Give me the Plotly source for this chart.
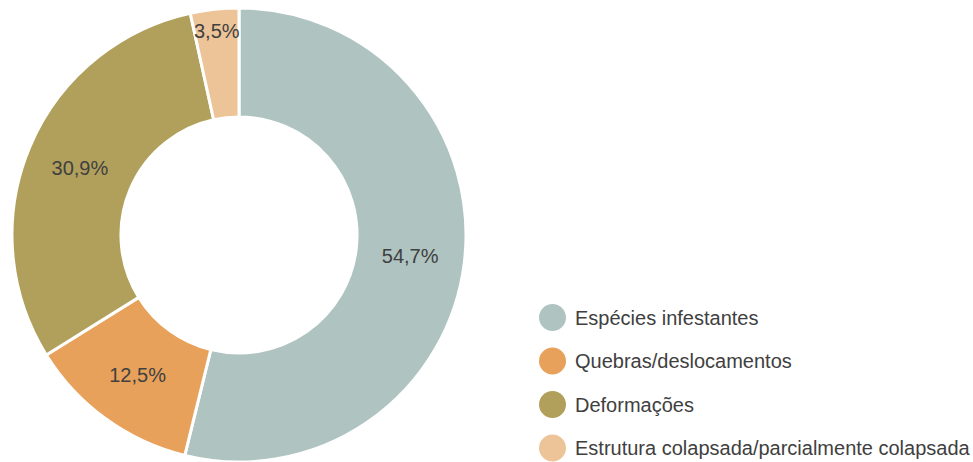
import plotly.graph_objects as go

labels = ["Espécies infestantes", "Quebras/deslocamentos", "Deformações",
          "Estrutura colapsada/parcialmente colapsada"]
values = [54.7, 12.5, 30.9, 3.5]
colors = ["#AFC4C1", "#E8A15B", "#B0A05B", "#EDC498"]

W, H = 973, 462
FONT = "Liberation Sans, Arial, sans-serif"
TXT = "#404040"

fig = go.Figure()
fig.add_trace(go.Pie(
    labels=labels, values=values, sort=False, direction="clockwise", rotation=0,
    hole=0.52,
    marker=dict(colors=colors, line=dict(color="white", width=3)),
    texttemplate="%{value:.1f}%", textposition="inside",
    insidetextorientation="horizontal",
    textfont=dict(family=FONT, size=20, color=TXT),
    domain=dict(x=[12 / W, 466 / W], y=[0, (H - 8) / H]),
    showlegend=False, hoverinfo="label+value",
))

# legend drawn as circles + text
lx, lx_text = 552.5, 573
ly0, dy = 317.5, 43.5
shapes, annotations = [], []
for i, (lab, col) in enumerate(zip(labels, colors)):
    yc = 1 - (ly0 + i * dy) / H
    shapes.append(dict(type="circle", xref="paper", yref="paper",
                       xsizemode="pixel", ysizemode="pixel",
                       xanchor=lx / W, yanchor=yc,
                       x0=-13.5, x1=13.5, y0=-13.5, y1=13.5,
                       fillcolor=col, line=dict(width=0)))
    annotations.append(dict(text=lab, xref="paper", yref="paper",
                            x=lx_text / W, y=yc, xanchor="left", yanchor="middle",
                            showarrow=False,
                            font=dict(family=FONT, size=20, color=TXT)))

fig.update_layout(
    width=W, height=H, margin=dict(l=0, r=0, t=0, b=0),
    paper_bgcolor="white", plot_bgcolor="white",
    separators=",.",
    uniformtext=dict(minsize=20, mode="show"),
    shapes=shapes, annotations=annotations,
)
fig.write_html("out.html", config={"displayModeBar": False},
               post_script="document.body.style.margin='0';document.body.style.padding='0';")
